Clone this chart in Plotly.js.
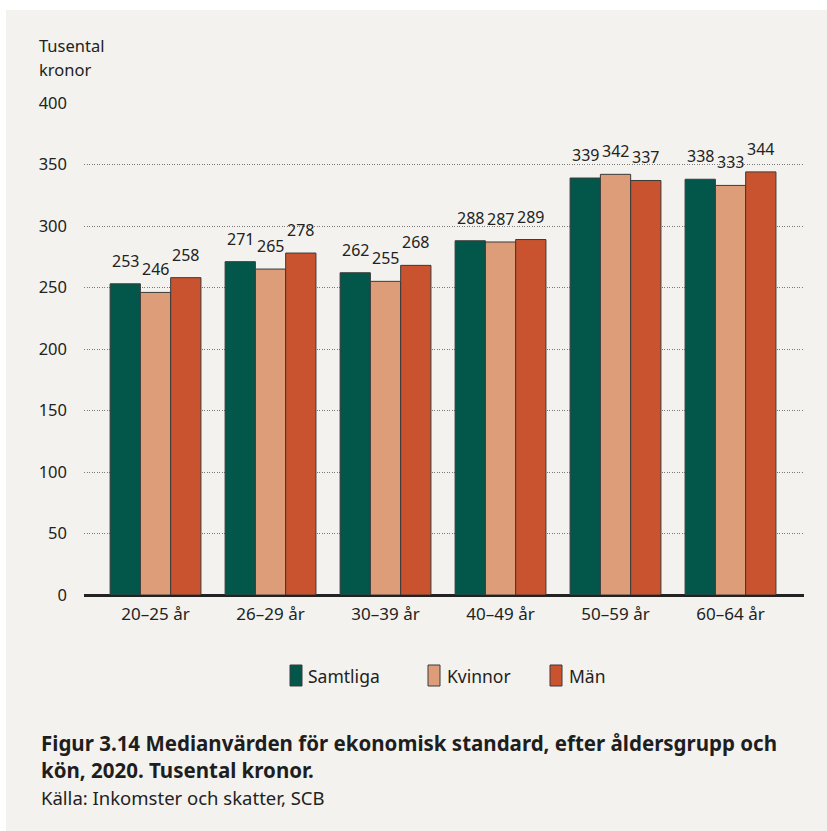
<!DOCTYPE html>
<html>
<head>
<meta charset="utf-8">
<script src="https://cdn.plot.ly/plotly-3.0.1.min.js"></script>
<style>
  html, body { margin: 0; padding: 0; background: #ffffff; }
  #chart { position: absolute; left: 6px; top: 10px; width: 821px; height: 821px; }
</style>
</head>
<body>
<div id="chart"></div>
<script>
// Median economic standard by age group and sex, 2020 (thousand SEK)
const ageGroups = ['20–25 år', '26–29 år', '30–39 år', '40–49 år', '50–59 år', '60–64 år'];
const seriesNames = ['Samtliga', 'Kvinnor', 'Män'];
const samtliga = [253, 271, 262, 288, 339, 338];
const kvinnor  = [246, 265, 255, 287, 342, 333];
const man      = [258, 278, 268, 289, 337, 344];
const yTicks   = [0, 50, 100, 150, 200, 250, 300, 350, 400];

const seriesValues = [samtliga, kvinnor, man];
const seriesColors = ['#03574a', '#dc9d78', '#c8532e'];

const W = 821, H = 821;
const M = { l: 78, r: 23, t: 93, b: 236 };
const plotW = W - M.l - M.r, plotH = H - M.t - M.b;
const font = '"Noto Sans", "Open Sans", sans-serif';
const ink = '#222222';

// pixel position in the figure -> paper fraction
const px = x => (x - M.l) / plotW;
const py = y => (H - M.b - y) / plotH;

const bargap = 0.21;
const barW = (1 - bargap) / seriesNames.length;

const traces = seriesNames.map((name, i) => ({
  type: 'bar',
  name: name,
  x: ageGroups,
  y: seriesValues[i],
  marker: { color: seriesColors[i], line: { color: '#3a3a3a', width: 1 } },
  hoverinfo: 'x+y+name',
  showlegend: false
}));

const annotations = [];
// value labels above each bar
seriesValues.forEach((vals, i) => {
  vals.forEach((v, j) => {
    annotations.push({
      xref: 'x', yref: 'y',
      x: j + (i - 1) * barW, y: v,
      text: String(v), showarrow: false,
      xanchor: 'center', yanchor: 'bottom', yshift: 10,
      font: { family: font, size: 16, color: ink }
    });
  });
});

// axis unit
annotations.push(
  { xref: 'paper', yref: 'paper', x: px(31), y: py(36), text: 'Tusental', showarrow: false,
    xanchor: 'left', yanchor: 'middle', font: { family: font, size: 16.5, color: ink } },
  { xref: 'paper', yref: 'paper', x: px(31), y: py(60), text: 'kronor', showarrow: false,
    xanchor: 'left', yanchor: 'middle', font: { family: font, size: 16.5, color: ink } }
);

// legend
const shapes = [];
const legendX = [[284, 303], [422, 442], [544, 564]];
seriesNames.forEach((name, i) => {
  shapes.push({
    type: 'rect', xref: 'paper', yref: 'paper',
    x0: px(legendX[i][0]), x1: px(legendX[i][0] + 12),
    y0: py(655), y1: py(676),
    fillcolor: seriesColors[i], line: { color: '#3a3a3a', width: 1 }
  });
  annotations.push({
    xref: 'paper', yref: 'paper', x: px(legendX[i][1] - 3), y: py(666),
    text: name, showarrow: false, xanchor: 'left', yanchor: 'middle',
    font: { family: font, size: 17.5, color: ink }
  });
});

// caption and source
annotations.push(
  { xref: 'paper', yref: 'paper', x: px(33), y: py(746),
    text: 'Figur 3.14 Medianvärden för ekonomisk standard, efter åldersgrupp och<br>kön, 2020. Tusental kronor.',
    showarrow: false, xanchor: 'left', yanchor: 'middle', align: 'left',
    font: { family: font, size: 20.5, color: '#1e1e1e', weight: 700 } },
  { xref: 'paper', yref: 'paper', x: px(33), y: py(787),
    text: 'Källa: Inkomster och skatter, SCB',
    showarrow: false, xanchor: 'left', yanchor: 'middle',
    font: { family: font, size: 18.5, color: ink } }
);

const layout = {
  width: W, height: H,
  margin: M,
  paper_bgcolor: '#f4f2ee',
  plot_bgcolor: 'rgba(0,0,0,0)',
  barmode: 'group',
  bargap: bargap,
  bargroupgap: 0,
  showlegend: false,
  font: { family: font, size: 16, color: ink },
  xaxis: {
    type: 'category',
    range: [-0.622, 5.639],
    showgrid: false, zeroline: false, showline: false,
    ticks: '', ticklabelstandoff: 7,
    tickfont: { family: font, size: 17, color: ink },
    fixedrange: true
  },
  yaxis: {
    range: [0, 400],
    tickvals: yTicks,
    ticktext: yTicks.map(String),
    showgrid: true, gridcolor: '#7a7a7a', gridwidth: 1, griddash: '1px,1.5px',
    zeroline: true, zerolinecolor: '#222222', zerolinewidth: 3,
    showline: false, ticks: '', ticklabelstandoff: 16,
    tickfont: { family: font, size: 16.5, color: ink },
    fixedrange: true
  },
  shapes: shapes,
  annotations: annotations
};

Plotly.newPlot('chart', traces, layout, { displayModeBar: false, staticPlot: true });
</script>
</body>
</html>
